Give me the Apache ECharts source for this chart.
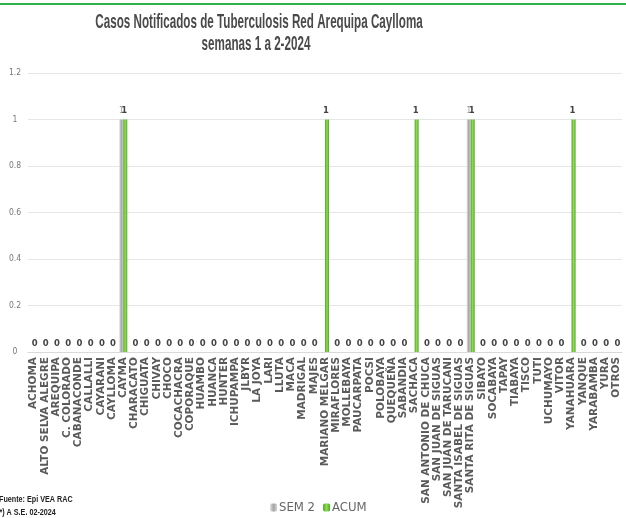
<!DOCTYPE html>
<html lang="es">
<head>
<meta charset="UTF-8">
<title>Casos Notificados de Tuberculosis</title>
<script src="https://cdn.jsdelivr.net/npm/echarts@6/dist/echarts.min.js"></script>
<style>
  html,body{margin:0;padding:0;background:#fff;}
  #main{width:626px;height:518px;}
</style>
</head>
<body>
<div id="main"></div>
<script>
// distritos
var distritos = ['ACHOMA','ALTO SELVA ALEGRE','AREQUIPA','C. COLORADO','CABANACONDE','CALLALLI','CAYARANI','CAYLLOMA','CAYMA',
  'CHARACATO','CHIGUATA','CHIVAY','CHOCO','COCACHACRA','COPORAQUE','HUAMBO','HUANCA','HUNTER','ICHUPAMPA','JLBYR','LA JOYA',
  'LARI','LLUTA','MACA','MADRIGAL','MAJES','MARIANO MELGAR','MIRAFLORES','MOLLEBAYA','PAUCARPATA','POCSI','POLOBAYA',
  'QUEQUEÑA','SABANDIA','SACHACA','SAN ANTONIO DE CHUCA','SAN JUAN DE SIGUAS','SAN JUAN DE TARUCANI','SANTA ISABEL DE SIGUAS',
  'SANTA RITA DE SIGUAS','SIBAYO','SOCABAYA','TAPAY','TIABAYA','TISCO','TUTI','UCHUMAYO','VITOR','YANAHUARA','YANQUE',
  'YARABAMBA','YURA','OTROS'];
// semana 2
var sem2 = [0,0,0,0,0,0,0,0,1, 0,0,0,0,0,0,0,0,0,0,0,0, 0,0,0,0,0,0,0,0,0,0,0, 0,0,0,0,0,0,0, 1,0,0,0,0,0,0,0,0,0,0, 0,0,0];
// acumulado
var acum = [0,0,0,0,0,0,0,0,1, 0,0,0,0,0,0,0,0,0,0,0,0, 0,0,0,0,0,1,0,0,0,0,0, 0,0,1,0,0,0,0, 1,0,0,0,0,0,0,0,0,1,0, 0,0,0];

var titulo = ['Casos Notificados de Tuberculosis Red Arequipa Caylloma', 'semanas 1 a 2-2024'];
var notas = ['Fuente: Epi VEA RAC', '(*) A S.E. 02-2024'];

var sans = '"Liberation Sans", Arial, sans-serif';
var cond = '"DejaVu Sans Condensed", sans-serif';

// texto estrecho (tipo Arial Narrow) escalando en x
function texto(t, x, y, font, fill, align, sx) {
  return {type: 'text', x: x, y: y, scaleX: sx || 0.8,
    style: {text: t, font: font, fill: fill, align: align || 'left', verticalAlign: 'middle'}};
}

var chart = echarts.init(document.getElementById('main'));
chart.setOption({
  backgroundColor: '#fff',
  animation: false,
  legend: {
    top: 496, left: 265,
    itemWidth: 7, itemHeight: 8, itemGap: 8,
    textStyle: {fontFamily: cond, fontSize: 13, color: '#666', padding: [0,0,0,-3]},
    data: ['SEM 2', 'ACUM']
  },
  grid: {left: 28, right: 4, top: 73, bottom: 166},
  xAxis: {
    type: 'category',
    data: distritos,
    axisTick: {show: false},
    axisLine: {lineStyle: {color: '#d9d9d9'}},
    axisLabel: {
      interval: 0, rotate: 90, margin: 5,
      fontFamily: 'DejaVu Sans', fontWeight: 'bold', fontSize: 10.5, color: '#5a5a5a'
    }
  },
  yAxis: {
    type: 'value', min: 0, max: 1.2, interval: 0.2,
    axisLine: {show: false}, axisTick: {show: false},
    splitLine: {lineStyle: {color: '#e6e6e6'}},
    axisLabel: {fontFamily: cond, fontSize: 8.5, color: '#777', margin: 13, align: 'center',
      formatter: function (v) { return +v.toFixed(1); }}
  },
  graphic: [
    {type: 'rect', left: 0, top: 3, shape: {width: 626, height: 2}, style: {fill: '#2fb24a'}},
    texto(titulo[0], 259, 22, 'bold 21px ' + sans, '#4a4a4a', 'center', 0.555),
    texto(titulo[1], 256, 44, 'bold 21px ' + sans, '#4a4a4a', 'center', 0.555),
    texto(notas[0], -1, 500, 'bold 9px ' + sans, '#222'),
    texto(notas[1], -3, 513, 'bold 9px ' + sans, '#222')
  ],
  series: [
    {
      name: 'SEM 2', type: 'bar', data: sem2, barWidth: 4, barGap: '0%',
      itemStyle: {
        color: new echarts.graphic.LinearGradient(0, 0, 1, 0, [
          {offset: 0, color: '#e2e2e2'}, {offset: 0.5, color: '#a6a6a6'}, {offset: 1, color: '#cfcfcf'}])
      },
      label: {show: true, position: 'top', fontFamily: cond, fontSize: 8, color: '#999',
        formatter: function (p) { return p.value ? p.value : ''; }}
    },
    {
      name: 'ACUM', type: 'bar', data: acum, barWidth: 4,
      itemStyle: {
        color: new echarts.graphic.LinearGradient(0, 0, 1, 0, [
          {offset: 0, color: '#4ea52a'}, {offset: 0.5, color: '#8fe04c'}, {offset: 1, color: '#4ea52a'}])
      },
      label: {show: true, position: 'top', distance: 4, fontFamily: 'DejaVu Sans', fontWeight: 'bold', fontSize: 8.5, color: '#444', offset: [-1, 0]}
    }
  ]
});
</script>
</body>
</html>
